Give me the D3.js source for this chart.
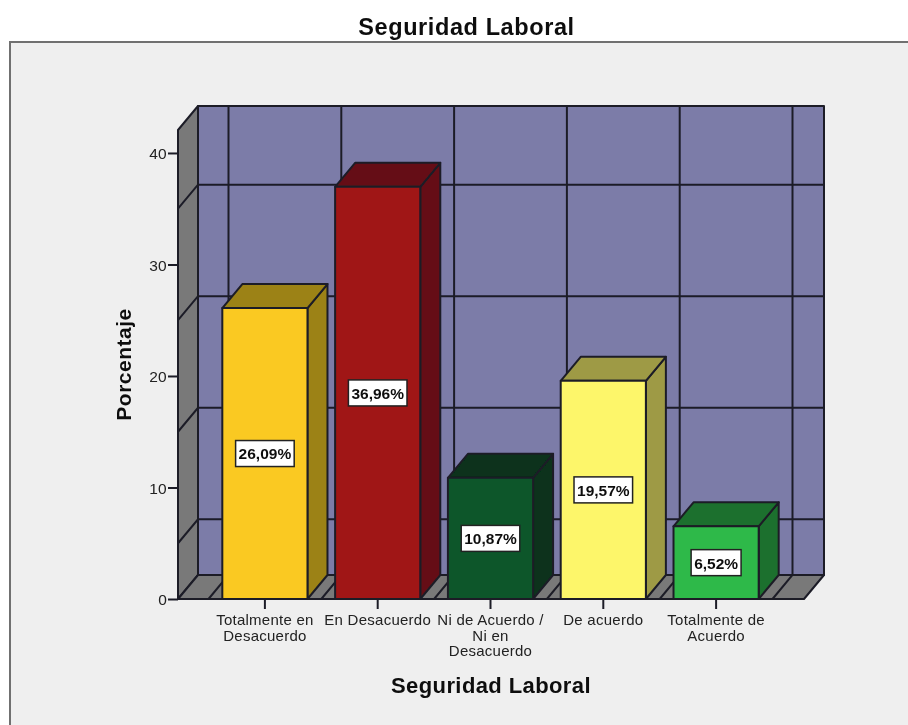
<!DOCTYPE html>
<html>
<head>
<meta charset="utf-8">
<script src="https://cdn.jsdelivr.net/npm/d3@7"></script>
<style>
  html, body { margin: 0; padding: 0; background: #fff; overflow: hidden; }
  text { font-family: "Liberation Sans", Arial, sans-serif; fill: #111; }
  .tick-label { fill: #222; letter-spacing: 0.25px; }
</style>
</head>
<body>
<div id="chart"></div>
<script>
// data
const categories = ["Totalmente en Desacuerdo", "En Desacuerdo", "Ni de Acuerdo / Ni en Desacuerdo", "De acuerdo", "Totalmente de Acuerdo"];
const categoryLines = [["Totalmente en", "Desacuerdo"], ["En Desacuerdo"], ["Ni de Acuerdo /", "Ni en", "Desacuerdo"], ["De acuerdo"], ["Totalmente de", "Acuerdo"]];
const percentages = [26.09, 36.96, 10.87, 19.57, 6.52];
const frontColors = ["#fac921", "#a01418", "#0b572c", "#fdf66b", "#2fb94a"];
const darkColors = ["#9c8214", "#651014", "#07331a", "#9e9a45", "#1e6f2e"];
const yTicks = [0, 10, 20, 30, 40];
const gridValues = [5, 15, 25, 35];

const width = 908, height = 725;
const depthX = 20, depthY = -24;   // offset of the back wall
const line = "#1d1d28";

const svg = d3.select("#chart").append("svg")
    .attr("width", width)
    .attr("height", height)
    .style("display", "block");

// the reference is a slightly soft screenshot
svg.append("defs").append("filter").attr("id", "soft")
    .attr("x", 0).attr("y", 0).attr("width", 1).attr("height", 1)
    .append("feGaussianBlur").attr("stdDeviation", 0.35);

const root = svg.append("g").attr("filter", "url(#soft)");

// chart frame
root.append("rect").attr("width", width).attr("height", height).attr("fill", "#fff");
root.append("rect")
    .attr("x", 10).attr("y", 42)
    .attr("width", width + 20).attr("height", height + 20)
    .attr("fill", "#efefef")
    .attr("stroke", "#6f6f6f").attr("stroke-width", 2);

const y = d3.scaleLinear().domain([0, 42.06]).range([599, 130]);
const x = d3.scaleBand().domain(categories).range([208.5, 772.5]).paddingInner(0.245).paddingOuter(0.1225);
const left = 178, right = 804;

const poly = pts => "M" + pts.map(p => p.join(",")).join("L") + "Z";
const shift = ([a, b]) => [a + depthX, b + depthY];
const y0 = y(0), yTop = y(42.06);

// back wall
const walls = root.append("g").attr("stroke", line).attr("stroke-width", 2).attr("stroke-linejoin", "round");
walls.append("path")
    .attr("d", poly([[left, yTop], [right, yTop], [right, y0], [left, y0]].map(shift)))
    .attr("fill", "#7b7ba8");

// side wall and floor
walls.append("path")
    .attr("d", poly([[left, y0], [left, yTop], shift([left, yTop]), shift([left, y0])]))
    .attr("fill", "#797979");
walls.append("path")
    .attr("d", poly([[left, y0], [right, y0], shift([right, y0]), shift([left, y0])]))
    .attr("fill", "#797979");

// grid on the walls
const boundaries = categories.map(c => x(c) - x.step() * x.paddingInner() / 2).concat(x(categories[4]) + x.bandwidth() + x.step() * x.paddingInner() / 2);
const grid = root.append("g").attr("stroke", line).attr("stroke-width", 2).attr("fill", "none");
grid.selectAll("path.h").data(gridValues).join("path")
    .attr("class", "h")
    .attr("d", d => `M${left},${y(d)}L${left + depthX},${y(d) + depthY}L${right + depthX},${y(d) + depthY}`);
grid.selectAll("path.v").data(boundaries).join("path")
    .attr("class", "v")
    .attr("d", d => `M${d},${y0}L${d + depthX},${y0 + depthY}L${d + depthX},${yTop + depthY}`);

// bars
const bars = root.append("g").selectAll("g")
    .data(categories.map((c, i) => ({ c, v: percentages[i], front: frontColors[i], dark: darkColors[i] })))
    .join("g")
    .attr("stroke", line).attr("stroke-width", 2).attr("stroke-linejoin", "round");

bars.append("path").attr("fill", d => d.dark)
    .attr("d", d => {
        const x1 = x(d.c) + x.bandwidth();
        return poly([[x1, y(d.v)], [x1, y0], shift([x1, y0]), shift([x1, y(d.v)])]);
    });
bars.append("path").attr("fill", d => d.dark)
    .attr("d", d => {
        const x0 = x(d.c), x1 = x0 + x.bandwidth();
        return poly([[x0, y(d.v)], [x1, y(d.v)], shift([x1, y(d.v)]), shift([x0, y(d.v)])]);
    });
bars.append("rect").attr("fill", d => d.front)
    .attr("x", d => x(d.c)).attr("y", d => y(d.v))
    .attr("width", x.bandwidth()).attr("height", d => y0 - y(d.v));

// value labels
const labels = root.append("g").selectAll("g")
    .data(categories.map((c, i) => ({ c, v: percentages[i] })))
    .join("g")
    .attr("transform", d => `translate(${x(d.c) + x.bandwidth() / 2},${(y(d.v) + y0) / 2})`);
labels.append("text")
    .attr("text-anchor", "middle").attr("dy", "0.38em")
    .attr("font-size", 15.5).attr("font-weight", "bold")
    .text(d => d.v.toFixed(2).replace(".", ",") + "%");
labels.insert("rect", "text").each(function () {
    const w = this.parentNode.querySelector("text").getComputedTextLength() + 6;
    d3.select(this).attr("x", -w / 2).attr("y", -13).attr("width", w).attr("height", 26);
}).attr("fill", "#fff").attr("stroke", "#222").attr("stroke-width", 1.5);

// axes
const yAxis = root.append("g").attr("transform", `translate(${left},0)`)
    .call(d3.axisLeft(y).tickValues(yTicks).tickSize(10).tickPadding(1));
const xAxis = root.append("g").attr("transform", `translate(0,${y0})`)
    .call(d3.axisBottom(x).tickSize(10).tickFormat(""));
[yAxis, xAxis].forEach(a => {
    a.select(".domain").remove();
    a.selectAll("line").attr("stroke", line).attr("stroke-width", 2);
});
yAxis.selectAll("text").attr("class", "tick-label").attr("font-size", 15.5).attr("font-family", null).attr("dy", "0.38em");

categoryLines.forEach((lines, i) => {
    const cx = x(categories[i]) + x.bandwidth() / 2;
    root.append("text")
        .attr("class", "tick-label")
        .attr("text-anchor", "middle").attr("font-size", 15)
        .selectAll("tspan").data(lines).join("tspan")
        .attr("x", cx)
        .attr("y", (d, k) => 625 + k * 15.5)
        .text(d => d);
});

// titles
root.append("text").attr("x", 466.5).attr("y", 35).attr("text-anchor", "middle")
    .attr("font-size", 23.5).attr("font-weight", "bold").style("letter-spacing", "0.6px").text("Seguridad Laboral");
root.append("text").attr("x", 491).attr("y", 693).attr("text-anchor", "middle")
    .attr("font-size", 22).attr("font-weight", "bold").style("letter-spacing", "0.4px").text("Seguridad Laboral");
root.append("text").attr("transform", "translate(131,364.5) rotate(-90)").attr("text-anchor", "middle")
    .attr("font-size", 21).attr("font-weight", "bold").style("letter-spacing", "0.5px").text("Porcentaje");
</script>
</body>
</html>
